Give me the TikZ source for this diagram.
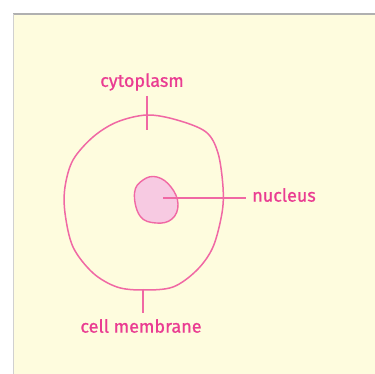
\documentclass[tikz,border=0pt]{standalone}
\usepackage{fontspec}
\setmainfont{Fira Sans}
\newfontfamily\labelfont{Fira Sans}[FakeBold=0.9]
\definecolor{paper}{RGB}{254,252,222}
\definecolor{edge}{RGB}{176,176,176}
\definecolor{pinkline}{RGB}{240,104,164}
\definecolor{pinktext}{RGB}{234,60,146}
\definecolor{nucfill}{RGB}{247,202,226}
\tikzset{
  membrane/.style={draw=pinkline, line width=1.5pt},
  pointer/.style={draw=pinkline, line width=1.2pt},
  label/.style={text=pinktext, font=\labelfont\fontsize{18}{18}\selectfont, inner sep=0pt}
}
\begin{document}
\begin{tikzpicture}[x=1pt,y=-1pt]
  % page and card
  \fill[white] (0,0) rectangle (375,374);
  \useasboundingbox (0,0) rectangle (375,374);
  \fill[paper] (14,14) rectangle (375,374);
  \draw[edge, line width=1.4pt] (13,14) -- (375,14);
  \draw[edge!60, line width=0.8pt] (13.5,14) -- (13.5,374);

  % cell outline
  \path[membrane] plot[smooth cycle, tension=0.55] coordinates {
    (147,115) (177,120) (206,132) (218,153) (223,187) (222,213)
    (213,247) (197,270) (173,287) (143,290) (117,287) (93,273)
    (73,247) (65,213) (65,187) (73,160) (93,137) (117,122)};

  % nucleus
  \path[draw=pinkline, line width=1.4pt, fill=nucfill] plot[smooth cycle, tension=0.7] coordinates {
    (134.5,193) (143,180) (157,177) (171,187) (178,204) (172,219)
    (156,223) (140,216)};

  % labels
  \node[label] (cyto) at (142,82) {cytoplasm};
  \node[label] (nuc) at (284,195) {nucleus};
  \node[label] (mem) at (141,326) {cell membrane};

  % pointer lines
  \coordinate (cytoA) at (147,96);
  \coordinate (cytoB) at (147,130);
  \coordinate (nucA) at (163,198);
  \coordinate (nucB) at (246,198);
  \coordinate (memA) at (143,289);
  \coordinate (memB) at (143,313);
  \path[pointer] (cytoA) -- (cytoB);
  \path[pointer] (nucA) -- (nucB);
  \path[pointer] (memA) -- (memB);
\end{tikzpicture}
\end{document}
